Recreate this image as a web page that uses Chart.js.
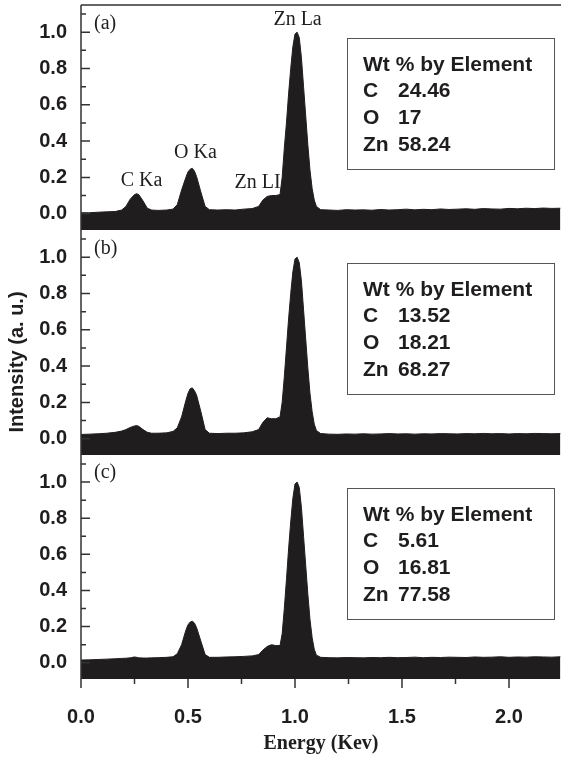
<!DOCTYPE html>
<html>
<head>
<meta charset="utf-8">
<script src="https://cdn.jsdelivr.net/npm/chart.js@4.4.0/dist/chart.umd.min.js"></script>
<style>
    html, body { margin: 0; padding: 0; background: #fff; }
    #contenedor { position: relative; width: 561px; height: 759px; }
    canvas { position: absolute; left: 0; }
</style>
</head>
<body>
<div id="contenedor">
    <canvas id="panelA" width="561" height="230" style="top:0px;width:561px;height:230px"></canvas>
    <canvas id="panelB" width="561" height="225" style="top:230px;width:561px;height:225px"></canvas>
    <canvas id="panelC" width="561" height="304" style="top:455px;width:561px;height:304px"></canvas>
</div>
<script>
// energia (keV), compartida por los tres espectros
const energia = [0.00, 0.04, 0.08, 0.12, 0.16, 0.19, 0.21, 0.23, 0.25, 0.26,
    0.27, 0.29, 0.31, 0.33, 0.36, 0.40, 0.43, 0.45, 0.47, 0.49,
    0.50, 0.51, 0.52, 0.53, 0.54, 0.56, 0.58, 0.60, 0.64, 0.68,
    0.72, 0.76, 0.80, 0.83, 0.85, 0.87, 0.89, 0.91, 0.93, 0.94,
    0.95, 0.96, 0.97, 0.98, 0.99, 1.00, 1.01, 1.02, 1.03, 1.04,
    1.05, 1.06, 1.07, 1.08, 1.09, 1.10, 1.12, 1.16, 1.20, 1.24,
    1.28, 1.32, 1.36, 1.40, 1.44, 1.48, 1.52, 1.56, 1.60, 1.64,
    1.68, 1.72, 1.76, 1.80, 1.84, 1.88, 1.92, 1.96, 2.00, 2.04,
    2.08, 2.12, 2.16, 2.20, 2.24]

const intensidadA = [0.005, 0.005, 0.008, 0.010, 0.012, 0.020, 0.040, 0.080, 0.105, 0.110,
    0.105, 0.070, 0.030, 0.020, 0.018, 0.020, 0.025, 0.050, 0.130, 0.200,
    0.230, 0.245, 0.250, 0.235, 0.205, 0.120, 0.040, 0.022, 0.020, 0.022,
    0.020, 0.025, 0.028, 0.040, 0.075, 0.095, 0.100, 0.100, 0.105, 0.200,
    0.360, 0.500, 0.660, 0.800, 0.920, 0.990, 1.000, 0.970, 0.860, 0.700,
    0.540, 0.380, 0.240, 0.140, 0.075, 0.040, 0.022, 0.020, 0.018, 0.022,
    0.020, 0.021, 0.019, 0.023, 0.020, 0.022, 0.025, 0.021, 0.024, 0.022,
    0.026, 0.023, 0.025, 0.027, 0.024, 0.028, 0.026, 0.025, 0.029, 0.027,
    0.030, 0.028, 0.031, 0.029, 0.030]

const intensidadB = [0.023, 0.025, 0.027, 0.030, 0.035, 0.042, 0.050, 0.062, 0.070, 0.072,
    0.068, 0.050, 0.035, 0.030, 0.030, 0.032, 0.040, 0.060, 0.120, 0.210,
    0.250, 0.275, 0.280, 0.265, 0.240, 0.150, 0.050, 0.030, 0.028, 0.030,
    0.030, 0.032, 0.038, 0.050, 0.090, 0.115, 0.110, 0.110, 0.120, 0.200,
    0.340, 0.500, 0.660, 0.800, 0.920, 0.990, 1.000, 0.970, 0.870, 0.710,
    0.550, 0.390, 0.250, 0.150, 0.080, 0.045, 0.028, 0.025, 0.024, 0.026,
    0.025, 0.027, 0.025, 0.026, 0.028, 0.026, 0.027, 0.025, 0.027, 0.026,
    0.028, 0.027, 0.026, 0.028, 0.027, 0.029, 0.027, 0.028, 0.026, 0.028,
    0.027, 0.029, 0.028, 0.027, 0.028]

const intensidadC = [0.015, 0.016, 0.018, 0.020, 0.022, 0.024, 0.025, 0.027, 0.032, 0.030,
    0.027, 0.026, 0.026, 0.027, 0.028, 0.030, 0.033, 0.050, 0.100, 0.180,
    0.210, 0.225, 0.230, 0.220, 0.195, 0.120, 0.045, 0.030, 0.030, 0.032,
    0.033, 0.035, 0.038, 0.045, 0.070, 0.090, 0.100, 0.095, 0.095, 0.160,
    0.300, 0.460, 0.630, 0.780, 0.910, 0.990, 1.000, 0.970, 0.860, 0.700,
    0.540, 0.380, 0.240, 0.140, 0.075, 0.042, 0.030, 0.028, 0.027, 0.029,
    0.028, 0.027, 0.029, 0.028, 0.030, 0.028, 0.029, 0.031, 0.028, 0.030,
    0.029, 0.031, 0.030, 0.029, 0.032, 0.030, 0.031, 0.033, 0.030, 0.032,
    0.031, 0.033, 0.032, 0.031, 0.033]

const yMarcas = [0.0, 0.2, 0.4, 0.6, 0.8, 1.0]
const yMenores = [0.1, 0.3, 0.5, 0.7, 0.9, 1.1]
const xMarcas = [0.0, 0.5, 1.0, 1.5, 2.0]
const xMenores = [0.25, 0.75, 1.25, 1.75]

const elementos = ['C', 'O', 'Zn']
const pesoA = ['24.46', '17', '58.24']
const pesoB = ['13.52', '18.21', '68.27']
const pesoC = ['5.61', '16.81', '77.58']

const picos = ['C Ka', 'O Ka', 'Zn LI', 'Zn La']
const picoEnergia = [0.283, 0.535, 0.825, 1.012]
const picoAltura = [0.151, 0.307, 0.14, 1.04]

const negro = '#1f1d1e'
const sans = '"Liberation Sans", Arial, sans-serif'
const serif = '"Liberation Serif", "Times New Roman", serif'

const extras = {
    id: 'extras',
    afterDraw(chart, args, opts) {
        const {ctx, chartArea: ca} = chart
        const x = chart.scales.x
        const y = chart.scales.y
        ctx.save()
        ctx.strokeStyle = '#333'
        ctx.lineWidth = 1.5

        // eje izquierdo y marcas hacia dentro
        ctx.beginPath()
        ctx.moveTo(ca.left, ca.top)
        ctx.lineTo(ca.left, opts.ejeX ? ca.bottom + 9 : ca.bottom)
        yMarcas.forEach(v => {
            const py = y.getPixelForValue(v)
            ctx.moveTo(ca.left, py); ctx.lineTo(ca.left + 9, py)
        })
        yMenores.forEach(v => {
            const py = y.getPixelForValue(v)
            ctx.moveTo(ca.left, py); ctx.lineTo(ca.left + 5, py)
        })
        if (opts.bordeSuperior) {
            ctx.moveTo(ca.left, ca.top); ctx.lineTo(ca.right, ca.top)
        }
        if (opts.ejeX) {
            xMarcas.forEach(v => {
                const px = x.getPixelForValue(v)
                ctx.moveTo(px, ca.bottom); ctx.lineTo(px, ca.bottom + 9)
            })
            xMenores.forEach(v => {
                const px = x.getPixelForValue(v)
                ctx.moveTo(px, ca.bottom); ctx.lineTo(px, ca.bottom + 5)
            })
        }
        ctx.stroke()

        // letra del panel
        ctx.fillStyle = negro
        ctx.font = '20px ' + serif
        ctx.textAlign = 'left'
        ctx.textBaseline = 'alphabetic'
        ctx.fillText(opts.letra, x.getPixelForValue(0.061), y.getPixelForValue(1.02))

        // nombres de los picos
        if (opts.picos) {
            ctx.textAlign = 'center'
            picos.forEach((p, i) => {
                ctx.fillText(p, x.getPixelForValue(picoEnergia[i]), y.getPixelForValue(picoAltura[i]))
            })
        }

        // recuadro con la composicion
        const top = ca.top + 33
        ctx.lineWidth = 1
        ctx.strokeStyle = '#555'
        ctx.strokeRect(347.5, top + 0.5, 207, 131)
        ctx.textAlign = 'left'
        ctx.font = 'bold 21px ' + sans
        ctx.fillText('Wt % by Element', 363, top + 33)
        elementos.forEach((el, i) => {
            ctx.fillText(el, 363, top + 59 + i * 27)
            ctx.fillText(opts.pesos[i], 398, top + 59 + i * 27)
        })

        // titulo del eje y (solo en el panel central)
        if (opts.tituloY) {
            ctx.font = 'bold 20px ' + sans
            ctx.translate(17, 362 - 230)
            ctx.rotate(-Math.PI / 2)
            ctx.textAlign = 'center'
            ctx.textBaseline = 'middle'
            ctx.fillText('Intensity (a. u.)', 0, 0)
        }
        ctx.restore()
    }
}

const crearPanel = (id, valores, opciones, ejeX) => {
    return new Chart(document.getElementById(id), {
        type: 'line',
        data: {
            datasets: [{
                data: energia.map((e, i) => ({x: e, y: valores[i]})),
                fill: 'start',
                backgroundColor: negro,
                borderColor: negro,
                borderWidth: 1,
                pointRadius: 0,
                tension: 0
            }]
        },
        options: {
            responsive: false,
            animation: false,
            devicePixelRatio: 1,
            layout: {padding: {top: opciones.bordeSuperior ? 5 : 0, right: 0, bottom: 0, left: 0}},
            plugins: {
                legend: {display: false},
                tooltip: {enabled: false},
                extras: opciones
            },
            scales: {
                x: {
                    type: 'linear',
                    min: 0,
                    max: 2.243,
                    display: ejeX,
                    grid: {display: false, drawTicks: false},
                    border: {display: false},
                    afterBuildTicks: s => { s.ticks = xMarcas.map(v => ({value: v})) },
                    afterFit: s => {
                        s.height = ejeX ? 80 : 0
                        s.paddingLeft = 0
                        s.paddingRight = 0
                    },
                    ticks: {
                        padding: 26,
                        color: negro,
                        font: {family: sans, size: 20, weight: 'bold'},
                        callback: v => v.toFixed(1)
                    },
                    title: {
                        display: true,
                        text: 'Energy (Kev)',
                        color: negro,
                        font: {family: serif, size: 20, weight: 'bold'},
                        padding: {top: 0, bottom: 3}
                    }
                },
                y: {
                    min: -0.09,
                    max: 1.15,
                    grid: {display: false, drawTicks: false},
                    border: {display: false},
                    afterBuildTicks: s => { s.ticks = yMarcas.map(v => ({value: v})) },
                    afterFit: s => { s.width = 81; s.paddingTop = 0; s.paddingBottom = 0 },
                    ticks: {
                        padding: 14,
                        color: negro,
                        font: {family: sans, size: 20, weight: 'bold'},
                        callback: v => v.toFixed(1)
                    }
                }
            }
        },
        plugins: [extras]
    })
}

crearPanel('panelA', intensidadA, {letra: '(a)', pesos: pesoA, picos: true, bordeSuperior: true}, false)
crearPanel('panelB', intensidadB, {letra: '(b)', pesos: pesoB, tituloY: true}, false)
crearPanel('panelC', intensidadC, {letra: '(c)', pesos: pesoC, ejeX: true}, true)
</script>
</body>
</html>
